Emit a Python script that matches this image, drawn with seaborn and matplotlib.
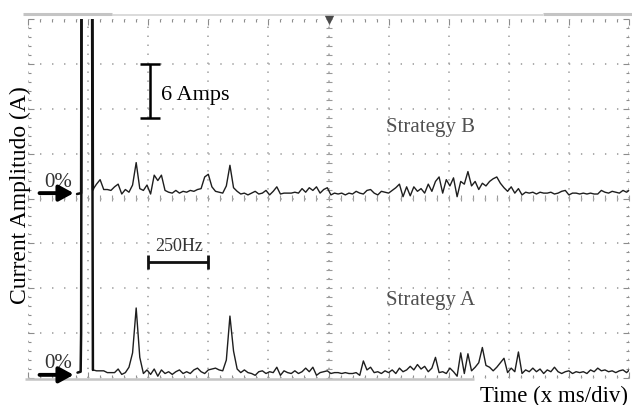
import numpy as np
import pandas as pd
import matplotlib
matplotlib.use("Agg")
import matplotlib.pyplot as plt
import seaborn as sns
from matplotlib.ticker import MultipleLocator

# ---- harmonic spectrum of the phase current (amplitude in A, frequency in Hz) ----
harm_hz = np.arange(270, 2506, 15)  # analyser frequency bins

amp_b = [1.0, 1.6, 2.1, 1.0, 1.0, 0.9, 1.3, 1.6, 0.5, 1.0,
         0.7, 1.5, 4.0, 1.1, 0.9, 1.5, 0.5, 2.6, 2.0, 2.6,
         0.9, 0.7, 0.6, 0.9, 0.6, 0.8, 0.7, 0.9, 0.8, 1.0,
         1.1, 2.4, 2.7, 1.3, 0.8, 0.7, 0.6, 1.4, 3.7, 1.2,
         0.8, 0.5, 0.6, 0.4, 0.6, 0.8, 0.5, 0.6, 0.9, 0.4,
         0.8, 1.3, 0.5, 0.6, 0.6, 0.6, 0.7, 0.6, 1.1, 0.7,
         1.2, 0.9, 1.3, 0.6, 1.0, 1.2, 0.4, 0.6, 0.5, 0.6,
         0.4, 0.6, 0.5, 0.8, 0.6, 0.5, 0.9, 1.0, 0.6, 0.4,
         0.8, 0.7, 0.6, 0.9, 1.2, 1.6, 0.2, 1.3, 0.3, 1.3,
         0.8, 1.1, 0.6, 1.6, 0.8, 1.9, 2.4, 0.6, 2.1, 1.4,
         2.3, 0.2, 1.9, 1.6, 3.0, 1.4, 1.9, 1.0, 1.7, 1.4,
         1.9, 2.2, 2.4, 1.7, 1.2, 0.8, 1.3, 0.6, 1.1, 0.4,
         0.7, 0.6, 0.7, 0.5, 0.7, 0.6, 0.6, 0.7, 0.5, 0.6,
         0.8, 0.9, 0.4, 0.6, 0.6, 0.5, 0.6, 0.5, 0.6, 0.5,
         0.5, 0.9, 0.7, 0.6, 0.8, 0.7, 0.6, 0.9, 0.7, 1.0]

amp_a = [0.9, 0.8, 0.8, 0.8, 0.6, 0.6, 0.6, 1.0, 0.4, 0.6,
         1.2, 2.8, 7.8, 2.3, 0.5, 0.9, 0.4, 1.0, 0.2, 0.9,
         0.5, 0.7, 0.4, 0.7, 0.9, 0.5, 0.7, 0.5, 0.9, 1.1,
         0.7, 0.5, 0.9, 1.0, 1.1, 0.9, 0.8, 2.0, 6.9, 3.0,
         1.0, 0.6, 0.9, 0.6, 0.5, 0.3, 0.7, 0.8, 0.5, 0.7,
         0.6, 1.2, 0.3, 0.8, 0.6, 0.5, 0.8, 0.5, 0.7, 1.1,
         0.7, 1.2, 0.3, 0.6, 0.7, 0.8, 0.5, 0.6, 0.6, 0.5,
         0.6, 0.5, 0.5, 0.6, 0.3, 1.9, 0.9, 1.2, 0.6, 0.7,
         0.5, 0.8, 0.6, 0.9, 0.5, 1.1, 0.7, 0.9, 1.3, 0.9,
         1.5, 1.0, 1.3, 0.7, 1.1, 2.3, 0.6, 0.7, 0.5, 1.1,
         0.7, 0.2, 2.8, 0.5, 2.7, 0.8, 1.2, 1.7, 3.4, 1.4,
         1.2, 0.8, 1.2, 1.7, 2.2, 0.6, 1.1, 0.7, 2.9, 0.5,
         0.9, 0.7, 1.1, 0.7, 1.0, 0.5, 0.9, 0.7, 1.2, 0.7,
         0.5, 0.7, 0.8, 0.5, 0.7, 0.6, 0.7, 0.5, 0.9, 0.7,
         1.1, 0.8, 0.9, 0.7, 0.8, 0.6, 0.8, 0.9, 0.6, 1.0]

# fundamental component, far above full scale
fund_hz_b = [204, 221, 224, 265, 270]
fund_amp_b = [0.5, 0.6, 60.0, 60.0, 1.0]
fund_hz_a = [206, 219, 221, 224, 265, 270]
fund_amp_a = [0.6, 0.7, 5.0, 60.0, 60.0, 0.9]

strategies = ["Strategy A", "Strategy B"]
zero_level = {"Strategy A": 0.0, "Strategy B": 20.0}  # screen baseline of each trace (A)

amps_per_div = 5
hz_per_div = 250
n_xdiv, n_ydiv = 10, 8
scale_amps = 6
scale_hz = 250

# ---- assemble traces ----
harm_frames, fund_frames = [], []
for name, fh, fa, ha in [("Strategy A", fund_hz_a, fund_amp_a, amp_a),
                         ("Strategy B", fund_hz_b, fund_amp_b, amp_b)]:
    harm_frames.append(pd.DataFrame({"hz": harm_hz, "amp": ha, "strategy": name,
                                     "screen": np.asarray(ha) + zero_level[name]}))
    fund_frames.append(pd.DataFrame({"hz": fh, "amp": fa, "strategy": name,
                                     "screen": np.asarray(fa) + zero_level[name]}))
harm_df = pd.concat(harm_frames, ignore_index=True)
fund_df = pd.concat(fund_frames, ignore_index=True)

sns.set_theme(style="white")
plt.rcParams["font.family"] = ["Liberation Serif", "DejaVu Serif"]

W, H, DPI = 632, 406, 100
fig = plt.figure(figsize=(W / DPI, H / DPI), dpi=DPI)
L, R, T, B = 28, 629, 20, 379
ax = fig.add_axes([L / W, 1 - B / H, (R - L) / W, (B - T) / H])

trace = "#1e1e1e"
sns.lineplot(data=harm_df, x="hz", y="screen", hue="strategy", units="strategy",
             estimator=None, sort=False, palette=[trace, trace],
             linewidth=1.0, legend=False, ax=ax)
sns.lineplot(data=fund_df, x="hz", y="screen", hue="strategy", units="strategy",
             estimator=None, sort=False, palette=["#101010", "#101010"],
             linewidth=1.8, legend=False, ax=ax)

ax.set_xlim(0, n_xdiv * hz_per_div)
ax.set_ylim(0, n_ydiv * amps_per_div)

# graticule: dotted division lines, minor ticks round the edge
ax.xaxis.set_major_locator(MultipleLocator(hz_per_div))
ax.xaxis.set_minor_locator(MultipleLocator(hz_per_div / 5))
ax.yaxis.set_major_locator(MultipleLocator(amps_per_div))
ax.yaxis.set_minor_locator(MultipleLocator(amps_per_div / 5))
ax.tick_params(which="both", direction="in", top=True, right=True,
               bottom=True, left=True, labelbottom=False, labelleft=False,
               color="#8c8c8c", width=0.8)
ax.tick_params(which="major", length=4)
ax.tick_params(which="minor", length=2.5)
for s in ax.spines.values():
    s.set_visible(False)

px_per_pt = DPI / 72
glw = 1.3
vper = (B - T) / n_ydiv / 5 / px_per_pt / glw
hper = (R - L) / n_xdiv / 5 / px_per_pt / glw
ax.grid(True, axis="x", which="major", color="#a6a6a6", lw=glw,
        ls=(0, (0.75, vper - 0.75)))
ax.grid(True, axis="y", which="major", color="#a6a6a6", lw=glw,
        ls=(0, (0.75, hper - 0.75)))

# centre cross with sub-division ticks
secx = ax.secondary_xaxis(0.5)
secx.xaxis.set_major_locator(MultipleLocator(hz_per_div / 5))
secx.tick_params(direction="inout", length=5, labelbottom=False,
                 labeltop=False, color="#9a9a9a", width=0.8)
secy = ax.secondary_yaxis(0.5)
secy.yaxis.set_major_locator(MultipleLocator(amps_per_div / 5))
secy.tick_params(direction="inout", length=5, labelleft=False,
                 labelright=False, color="#9a9a9a", width=0.8)
for sec in (secx, secy):
    for s in sec.spines.values():
        s.set_visible(False)

# trigger marker and screen status bars
ax.plot([0.5], [1.0], marker="v", ms=6, color="#4a4a4a",
        transform=ax.transAxes, clip_on=False)
ax.plot([-0.008, 0.14], [1.014, 1.014], color="#c4c4c4", lw=2.2,
        transform=ax.transAxes, clip_on=False, solid_capstyle="butt")
ax.plot([0.14, 0.857], [1.011, 1.011], color="#d4d4d4", lw=1.2,
        transform=ax.transAxes, clip_on=False, solid_capstyle="butt")
ax.plot([0.857, 1.005], [1.014, 1.014], color="#c4c4c4", lw=2.2,
        transform=ax.transAxes, clip_on=False, solid_capstyle="butt")
ax.plot([-0.005, 0.742], [-0.003, -0.003], color="#c4c4c4", lw=1.8,
        transform=ax.transAxes, clip_on=False, solid_capstyle="butt")

# amplitude scale bar (6 A)
ax.errorbar(508, 29.0 + scale_amps / 2, yerr=scale_amps / 2, fmt="none",
            ecolor="black", elinewidth=1.8, capsize=7.5, capthick=1.8)
ax.text(553, 31.1, f"{scale_amps} Amps", fontsize=16, color="black",
        ha="left", va="baseline")

# frequency scale bar (250 Hz)
ax.errorbar(500 + scale_hz / 2, 12.9, xerr=scale_hz / 2, fmt="none",
            ecolor="#111111", elinewidth=2.0, capsize=5, capthick=2.0)
ax.text(628, 14.25, f"{scale_hz}Hz", fontsize=13, color="#333333",
        ha="center", va="baseline")

# trace names
ax.text(1489, 27.5, "Strategy B", fontsize=15, color="#505050",
        ha="left", va="baseline")
ax.text(1489, 8.2, "Strategy A", fontsize=15, color="#505050",
        ha="left", va="baseline")

# zero-level markers
for name, yb in [("Strategy B", 21.4), ("Strategy A", 1.2)]:
    ax.text(69, yb, "0%", fontsize=15, color="#333333", ha="left",
            va="baseline")
    y0 = zero_level[name] + 0.6 if name == "Strategy B" else 0.35
    ax.annotate("", xy=(190, y0), xytext=(48, y0),
                arrowprops=dict(arrowstyle="-|>,head_length=0.55,head_width=0.3",
                                lw=2.8, color="black", mutation_scale=16,
                                shrinkA=0, shrinkB=0),
                annotation_clip=False)

ax.set_ylabel("Current Amplitudo (A)", fontsize=17, color="black")
ax.yaxis.set_label_coords(-0.003, 0.512)
ax.yaxis.label.set_va("baseline")
ax.set_xlabel("Time (x ms/div)", fontsize=16.5, color="black")
ax.xaxis.set_label_coords(0.998, -0.064)
ax.xaxis.label.set_ha("right")
ax.xaxis.label.set_va("baseline")

fig.savefig("out.png", dpi=DPI)
